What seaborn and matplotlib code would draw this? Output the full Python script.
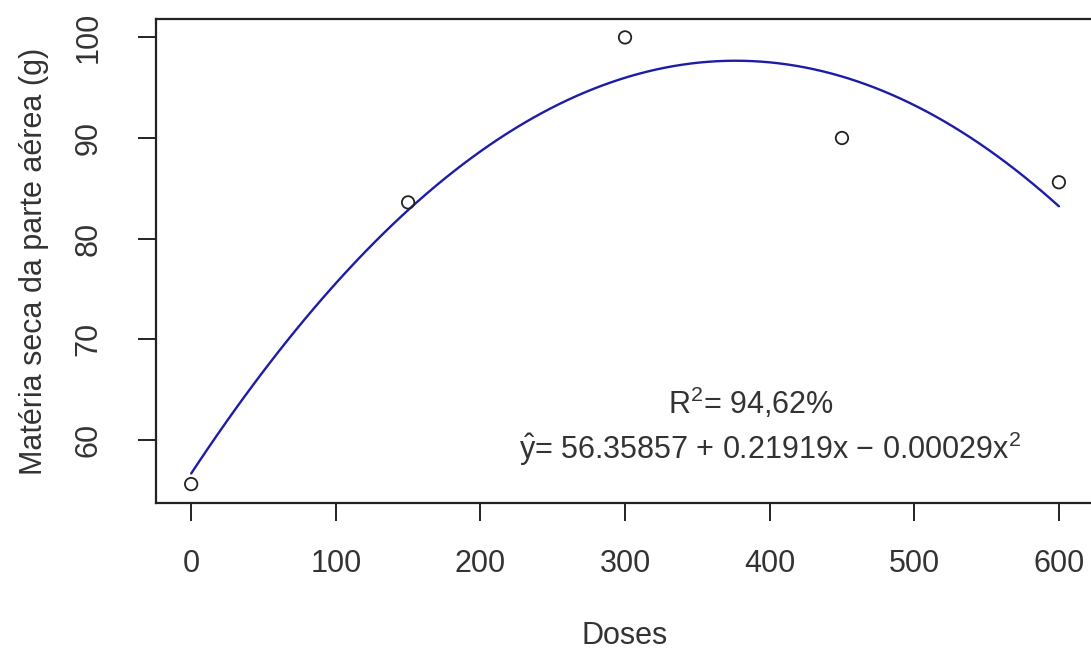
import numpy as np
import pandas as pd
import matplotlib
matplotlib.use('Agg')
import matplotlib.pyplot as plt
import seaborn as sns

# Data
doses = [0, 150, 300, 450, 600]
materia_seca = [55.6, 83.6, 100.0, 90.0, 85.6]
r2_text = 'R$^2$= 94,62%'
eq_text = '$\\hat{\\mathrm{y}}$= 56.35857 + 0.21919x \u2212 0.00029x$^2$'

df = pd.DataFrame({'Doses': doses, 'MS': materia_seca})

sns.set_theme(style='ticks')
plt.rcParams['font.family'] = ['Liberation Sans', 'DejaVu Sans']
plt.rcParams['mathtext.fontset'] = 'custom'
plt.rcParams['mathtext.rm'] = 'Liberation Sans'
plt.rcParams['mathtext.it'] = 'Liberation Sans'

fs = 22
fig = plt.figure(figsize=(10.91, 6.54), dpi=100)
ax = fig.add_axes([0.1434, 0.2309, 0.859, 0.7393])

# quadratic fit line
sns.regplot(data=df, x='Doses', y='MS', order=2, ci=None, scatter=False,
            line_kws={'color': '#1c1ca8', 'lw': 1.7}, ax=ax)
# observed points
sns.scatterplot(data=df, x='Doses', y='MS', marker='o', s=80,
                facecolor='none', edgecolor='#222222', linewidth=1.3, ax=ax, zorder=3)

ax.set_xlim(-24, 624)
ax.set_ylim(53.72, 101.78)
ax.set_xticks([0, 100, 200, 300, 400, 500, 600])
ax.set_yticks([60, 70, 80, 90, 100])

for s in ax.spines.values():
    s.set_color('#222222')
    s.set_linewidth(1.6)

ax.tick_params(axis='both', which='major', length=13, width=1.4, color='#222222',
               labelsize=fs, labelcolor='#333333', direction='out',
               bottom=True, left=True)
ax.tick_params(axis='x', pad=20)
ax.tick_params(axis='y', pad=25)
for lab in ax.get_yticklabels():
    lab.set_rotation(90)
    lab.set_va('center')

ax.set_xlabel('Doses', fontsize=fs, color='#333333')
ax.set_ylabel('Matéria seca da parte aérea (g)', fontsize=fs, color='#333333')
ax.xaxis.set_label_coords(0.5 * (0.1434 + 1.0025), 0.05, transform=fig.transFigure)
ax.yaxis.set_label_coords(0.0445, 0.601, transform=fig.transFigure)

ax.text(387, 63.6, r2_text, ha='center', va='center', fontsize=fs, color='#333333')
ax.text(400, 59.1, eq_text, ha='center', va='center', fontsize=fs, color='#333333')

fig.savefig('out.png', dpi=100)
